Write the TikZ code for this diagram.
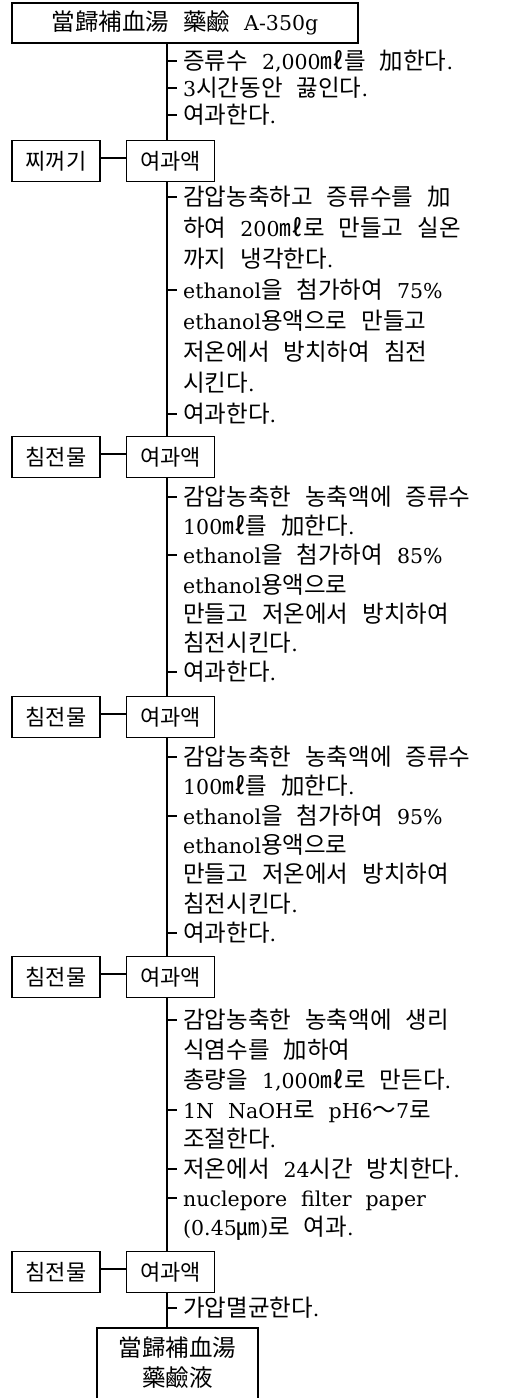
\documentclass[tikz,border=0pt]{standalone}
\usepackage{fontspec}
\setmainfont{DejaVu Serif}
\newfontfamily\krf[Scale=1.146]{Noto Sans CJK KR}
\newcommand\kr[1]{{\krf #1}}
\newcommand\bodyfont{\fontsize{20.5}{29}\selectfont\spaceskip=14pt\relax}
\newcommand\boxfont{\fontsize{19.2}{26}\selectfont\spaceskip=12pt\relax}
\usetikzlibrary{calc}
\tikzset{
  thinline/.style={line width=1.1pt},
  heavyline/.style={line width=1.8pt},
  smallbox/.style={draw, line width=1.2pt, minimum width=88pt, minimum height=41pt, inner sep=0pt, font=\boxfont},
  txt/.style={anchor=west, inner xsep=6pt, inner ysep=0pt, text height=20pt, text depth=4pt, font=\bodyfont},
}
\begin{document}
\begin{tikzpicture}[x=1pt,y=-1pt]
\useasboundingbox (0,0) rectangle (509,1398);
\coordinate (sp) at (167,0);
% top box
\node[draw, heavyline, minimum width=346pt, minimum height=40pt, inner sep=0pt, font=\bodyfont] (top) at (185,23) {\kr{當歸補血湯 藥鹼} A-350g};
% section 0
\node[txt] (a1) at (177,61) {\kr{증류수} 2,000\kr{㎖를 加한다}.};
\node[txt] (a2) at (177,88) {3\kr{시간동안 끓인다}.};
\node[txt] (a3) at (177,115) {\kr{여과한다}.};
% boxes 1
\node[smallbox] (l1) at (56,161) {\kr{찌꺼기}};
\node[smallbox] (f1) at (170.5,161) {\kr{여과액}};
% section 1
\node[txt] (b1) at (177,197) {\kr{감압농축하고 증류수를 加}};
\node[txt] (b2) at (177,228) {\kr{하여} 200\kr{㎖로 만들고 실온}};
\node[txt] (b3) at (177,259) {\kr{까지 냉각한다}.};
\node[txt] (b4) at (177,290) {ethanol\kr{을 첨가하여} 75\%};
\node[txt] (b5) at (177,321) {ethanol\kr{용액으로 만들고}};
\node[txt] (b6) at (177,352) {\kr{저온에서 방치하여 침전}};
\node[txt] (b7) at (177,383) {\kr{시킨다}.};
\node[txt] (b8) at (177,414) {\kr{여과한다}.};
% boxes 2
\node[smallbox] (l2) at (56,457) {\kr{침전물}};
\node[smallbox] (f2) at (170.5,457) {\kr{여과액}};
% section 2
\node[txt] (c1) at (177,497) {\kr{감압농축한 농축액에 증류수}};
\node[txt] (c2) at (177,526) {100\kr{㎖를 加한다}.};
\node[txt] (c3) at (177,555) {ethanol\kr{을 첨가하여} 85\%};
\node[txt] (c4) at (177,585) {ethanol\kr{용액으로}};
\node[txt] (c5) at (177,614) {\kr{만들고 저온에서 방치하여}};
\node[txt] (c6) at (177,643) {\kr{침전시킨다}.};
\node[txt] (c7) at (177,672) {\kr{여과한다}.};
% boxes 3
\node[smallbox] (l3) at (56,717) {\kr{침전물}};
\node[smallbox] (f3) at (170.5,717) {\kr{여과액}};
% section 3
\node[txt] (d1) at (177,757) {\kr{감압농축한 농축액에 증류수}};
\node[txt] (d2) at (177,786) {100\kr{㎖를 加한다}.};
\node[txt] (d3) at (177,816) {ethanol\kr{을 첨가하여} 95\%};
\node[txt] (d4) at (177,845) {ethanol\kr{용액으로}};
\node[txt] (d5) at (177,874) {\kr{만들고 저온에서 방치하여}};
\node[txt] (d6) at (177,904) {\kr{침전시킨다}.};
\node[txt] (d7) at (177,933) {\kr{여과한다}.};
% boxes 4
\node[smallbox] (l4) at (56,977) {\kr{침전물}};
\node[smallbox] (f4) at (170.5,977) {\kr{여과액}};
% section 4
\node[txt] (e1) at (177,1020) {\kr{감압농축한 농축액에 생리}};
\node[txt] (e2) at (177,1050) {\kr{식염수를 加하여}};
\node[txt] (e3) at (177,1080) {\kr{총량을} 1,000\kr{㎖로 만든다}.};
\node[txt] (e4) at (177,1110) {1N NaOH\kr{로} pH6\kr{～}7\kr{로}};
\node[txt] (e5) at (177,1139) {\kr{조절한다}.};
\node[txt] (e6) at (177,1169) {\kr{저온에서} 24\kr{시간 방치한다}.};
\node[txt] (e7) at (177,1198) {nuclepore filter paper};
\node[txt] (e8) at (177,1227) {(0.45\kr{㎛})\kr{로 여과}.};
% boxes 5
\node[smallbox] (l5) at (56,1272) {\kr{침전물}};
\node[smallbox] (f5) at (170.5,1272) {\kr{여과액}};
% section 5
\node[txt] (g1) at (177,1308) {\kr{가압멸균한다}.};
% final box
\node[align=center, inner sep=0pt, font=\fontsize{20.5}{30}\selectfont] (final) at (177.5,1362.5) {\kr{當歸補血湯}\\\kr{藥鹼液}};
\coordinate (fb) at (167,1328);
\draw[heavyline] (97,1398) |- (258,1328) -- (258,1398);
% spine
\draw[thinline] (top.south -| sp) -- (f1.north -| sp);
\draw[thinline] (f1.south -| sp) -- (f2.north -| sp);
\draw[thinline] (f2.south -| sp) -- (f3.north -| sp);
\draw[thinline] (f3.south -| sp) -- (f4.north -| sp);
\draw[thinline] (f4.south -| sp) -- (f5.north -| sp);
\draw[thinline] (f5.south -| sp) -- (fb);
% side connectors
\foreach \i in {1,...,5}{
  \draw[thinline] ([yshift=3pt]l\i.east) -- ([yshift=3pt]f\i.west);
}
% ticks
\foreach \n in {a1,a2,a3,b1,b4,b8,c1,c3,c7,d1,d3,d7,e1,e4,e6,e7,g1}{
  \draw[thinline] (\n.west -| sp) -- (\n.west);
}
\end{tikzpicture}
\end{document}
